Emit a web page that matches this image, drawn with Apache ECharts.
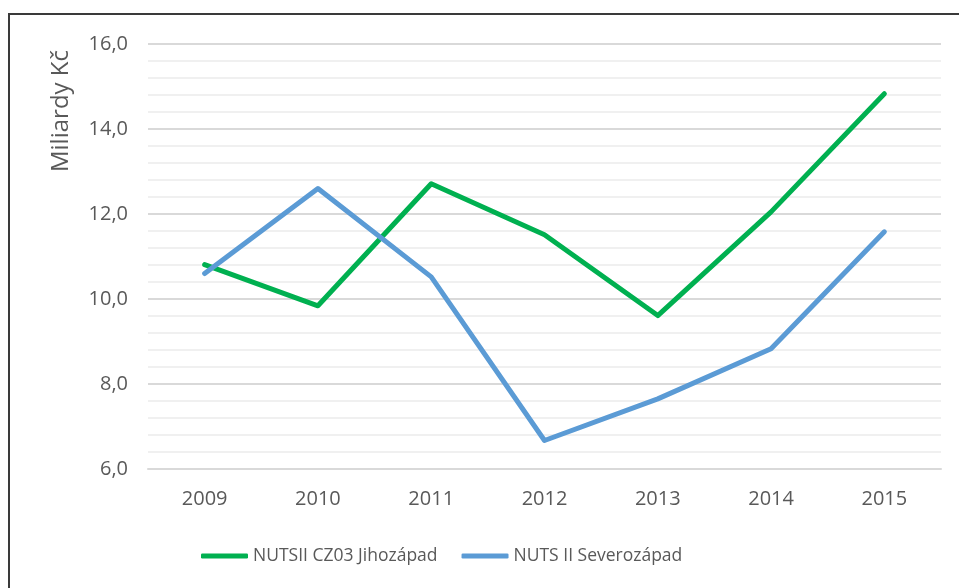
<!DOCTYPE html>
<html>
<head>
<meta charset="utf-8">
<script src="https://cdn.jsdelivr.net/npm/echarts@6/dist/echarts.min.js"></script>
<style>
  html, body { margin: 0; padding: 0; background: #fff; }
  #chart { width: 959px; height: 588px; }
</style>
</head>
<body>
<div id="chart"></div>
<script>
// roky
var years = ['2009', '2010', '2011', '2012', '2013', '2014', '2015'];
// miliardy Kč
var jihozapad = [10.81, 9.84, 12.71, 11.51, 9.61, 12.05, 14.83];
var severozapad = [10.60, 12.60, 10.52, 6.67, 7.65, 8.83, 11.58];
var seriesNames = ['NUTSII CZ03 Jihozápad', 'NUTS II Severozápad'];
var axisTitle = 'Miliardy Kč';

var font = '"Open Sans", "Noto Sans", sans-serif';
var textColor = '#595959';

var chart = echarts.init(document.getElementById('chart'), null, { renderer: 'canvas' });

chart.setOption({
  animation: false,
  backgroundColor: '#fff',
  grid: {
    left: 148,
    right: 18,
    top: 44,
    bottom: 119
  },
  graphic: [
    {
      // rámeček grafu
      type: 'rect',
      shape: { x: 9, y: 14, width: 1000, height: 1000 },
      style: { fill: 'none', stroke: '#3a3a3a', lineWidth: 2 },
      silent: true
    },
    {
      type: 'text',
      x: 61,
      y: 111,
      rotation: Math.PI / 2,
      style: {
        text: axisTitle,
        fill: textColor,
        font: '24px ' + font,
        align: 'center',
        verticalAlign: 'middle'
      }
    }
  ],
  legend: {
    left: 196,
    top: 542,
    itemWidth: 47,
    itemHeight: 5,
    itemGap: 24,
    icon: 'roundRect',
    textStyle: {
      color: textColor,
      fontFamily: font,
      fontSize: 17.5
    },
    data: seriesNames
  },
  xAxis: {
    type: 'category',
    data: years,
    boundaryGap: true,
    axisLine: { show: true, lineStyle: { color: '#d9d9d9', width: 2 } },
    axisTick: { show: false },
    axisLabel: {
      color: textColor,
      fontFamily: font,
      fontSize: 20,
      margin: 20
    }
  },
  yAxis: {
    type: 'value',
    min: 6,
    max: 16,
    interval: 2,
    axisLine: { show: false },
    axisTick: { show: false },
    axisLabel: {
      color: textColor,
      fontFamily: font,
      fontSize: 20,
      margin: 20,
      formatter: function (v) {
        return v.toFixed(1).replace('.', ',');
      }
    },
    splitLine: { lineStyle: { color: '#d9d9d9', width: 2 } },
    minorTick: { show: false, splitNumber: 5 },
    minorSplitLine: { show: true, lineStyle: { color: '#f0f0f0', width: 2 } }
  },
  series: [
    {
      name: seriesNames[0],
      type: 'line',
      data: jihozapad,
      showSymbol: false,
      symbol: 'none',
      lineStyle: { color: '#00b050', width: 5, cap: 'round', join: 'round' },
      itemStyle: { color: '#00b050' }
    },
    {
      name: seriesNames[1],
      type: 'line',
      data: severozapad,
      showSymbol: false,
      symbol: 'none',
      lineStyle: { color: '#5b9bd5', width: 5, cap: 'round', join: 'round' },
      itemStyle: { color: '#5b9bd5' }
    }
  ]
});
</script>
</body>
</html>
